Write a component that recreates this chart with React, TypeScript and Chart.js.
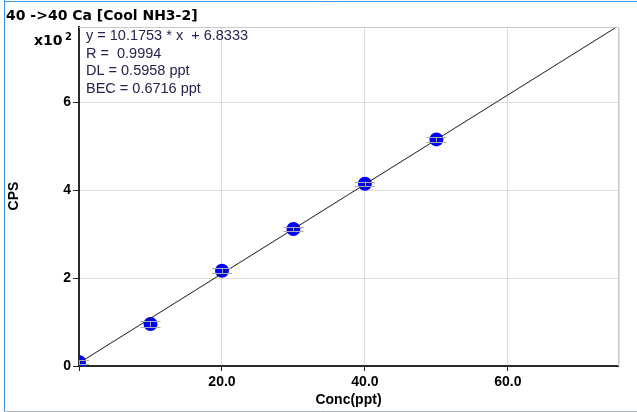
import React, { useEffect, useRef } from "react";
import { Chart, registerables } from "chart.js";

Chart.register(...registerables);

// Calibration standards (concentration, ppt) and measured signal (CPS x10^2)
const concPpt = [0, 10, 20, 30, 40, 50];
const cpsX100 = [0.09, 0.957, 2.17, 3.12, 4.15, 5.16];
const cpsErr = [0.05, 0.06, 0.06, 0.05, 0.05, 0.05];

// Fitted calibration line endpoints
const fitX = [0, 75.4];
const fitY = [0.068, 7.74];

const xTicks = [20, 40, 60];
const yTicks = [0, 2, 4, 6];

const titleText = "40 ->40 Ca [Cool NH3-2]";
const eqLines = [
  "y = 10.1753 * x  + 6.8333",
  "R =  0.9994",
  "DL = 0.5958 ppt",
  "BEC = 0.6716 ppt",
];
const xTitle = "Conc(ppt)";
const yTitle = "CPS";

const X_MAX = 75.4;
const Y_MAX = 7.72;

const decorPlugin = {
  id: "decor",
  beforeDraw(chart: any) {
    const ctx = chart.ctx;
    ctx.save();
    ctx.fillStyle = "#ffffff";
    ctx.fillRect(0, 0, chart.width, chart.height);
    ctx.restore();
  },
  afterDatasetsDraw(chart: any) {
    const ctx = chart.ctx;
    const xs = chart.scales.x;
    const ys = chart.scales.y;
    const ca = chart.chartArea;
    ctx.save();
    ctx.beginPath();
    ctx.rect(ca.left, ca.top, ca.right - ca.left, ca.bottom - ca.top);
    ctx.clip();
    ctx.strokeStyle = "#a8a8b8";
    ctx.lineWidth = 1;
    for (let i = 0; i < concPpt.length; i++) {
      const px = xs.getPixelForValue(concPpt[i]);
      const pTop = ys.getPixelForValue(cpsX100[i] + cpsErr[i]);
      const pBot = ys.getPixelForValue(cpsX100[i] - cpsErr[i]);
      ctx.beginPath();
      ctx.moveTo(px - 10, Math.round(pTop) + 0.5);
      ctx.lineTo(px + 10, Math.round(pTop) + 0.5);
      ctx.moveTo(px - 10, Math.round(pBot) + 0.5);
      ctx.lineTo(px + 10, Math.round(pBot) + 0.5);
      ctx.moveTo(Math.round(px) + 0.5, pTop);
      ctx.lineTo(Math.round(px) + 0.5, pBot);
      ctx.stroke();
    }
    ctx.restore();
  },
  afterDraw(chart: any) {
    const ctx = chart.ctx;
    const ca = chart.chartArea;
    ctx.save();
    // outer frame
    ctx.strokeStyle = "#3d95e8";
    ctx.lineWidth = 1;
    ctx.beginPath();
    ctx.moveTo(4.5, 0);
    ctx.lineTo(4.5, 411);
    ctx.moveTo(4, 1.5);
    ctx.lineTo(637, 1.5);
    ctx.stroke();
    ctx.strokeStyle = "#a9b4bf";
    ctx.beginPath();
    ctx.moveTo(4, 411.5);
    ctx.lineTo(637, 411.5);
    ctx.stroke();

    // plot top/right edges
    ctx.strokeStyle = "#c8c8c8";
    ctx.beginPath();
    ctx.moveTo(ca.left, ca.top + 0.5);
    ctx.lineTo(ca.right + 0.5, ca.top + 0.5);
    ctx.lineTo(ca.right + 0.5, ca.bottom);
    ctx.stroke();
    ctx.strokeStyle = "#e2e2e2";
    ctx.beginPath();
    ctx.moveTo(ca.right + 1.5, ca.top + 1);
    ctx.lineTo(ca.right + 1.5, ca.bottom + 1);
    ctx.stroke();

    // title
    ctx.fillStyle = "#000";
    ctx.textBaseline = "alphabetic";
    ctx.textAlign = "left";
    ctx.font = "bold 14px 'DejaVu Sans'";
    ctx.fillText(titleText, 6, 20);

    // x10^2
    ctx.font = "bold 14px 'DejaVu Sans'";
    ctx.fillText("x10", 34, 45);
    ctx.font = "bold 10px 'DejaVu Sans'";
    ctx.fillText("2", 65, 40);

    // equation text
    ctx.fillStyle = "#2a2050";
    ctx.font = "14.5px 'Liberation Sans'";
    ctx.textBaseline = "middle";
    for (let i = 0; i < eqLines.length; i++) {
      ctx.fillText(eqLines[i], 86, 36 + i * 17.5);
    }

    // axis titles
    ctx.fillStyle = "#000";
    ctx.font = "bold 14px 'Liberation Sans'";
    ctx.textAlign = "center";
    ctx.fillText(xTitle, (ca.left + ca.right) / 2, 400);
    ctx.translate(14, 196);
    ctx.rotate(-Math.PI / 2);
    ctx.fillText(yTitle, 0, 0);
    ctx.restore();
  },
};

export default function App() {
  const ref = useRef<HTMLCanvasElement | null>(null);
  useEffect(() => {
    if (!ref.current) return;
    const chart = new Chart(ref.current, {
      type: "scatter",
      data: {
        datasets: [
          {
            type: "line",
            label: "fit",
            data: fitX.map((x, i) => ({ x, y: fitY[i] })),
            borderColor: "#1a1a1a",
            borderWidth: 1,
            pointRadius: 0,
            showLine: true,
            fill: false,
            order: 0,
            clip: 0,
          } as any,
          {
            label: "std",
            data: concPpt.map((x, i) => ({ x, y: cpsX100[i] })),
            backgroundColor: "#0000ff",
            borderColor: "#0000ff",
            pointRadius: 7,
            pointBorderWidth: 0,
            order: 1,
            clip: 0,
          } as any,
        ],
      },
      options: {
        responsive: false,
        animation: false,
        devicePixelRatio: 1,
        layout: { padding: { top: 27, right: 19, left: 0, bottom: 0 } },
        plugins: {
          legend: { display: false },
          tooltip: { enabled: false },
          title: { display: false },
        },
        scales: {
          x: {
            type: "linear",
            min: 0,
            max: X_MAX,
            afterFit: (s: any) => {
              s.height = 46;
            },
            afterBuildTicks: (s: any) => {
              s.ticks = [0, ...xTicks].map((v) => ({ value: v }));
            },
            ticks: {
              autoSkip: false,
              maxRotation: 0,
              includeBounds: false,
              padding: 3,
              color: "#000",
              font: { family: "'Liberation Sans'", size: 14, weight: "bold" },
              callback: (v: any) => (v === 0 ? "" : Number(v).toFixed(1)),
            },
            grid: {
              color: (c: any) => (c.tick && c.tick.value === 0 ? "rgba(0,0,0,0)" : "#dcdcdc"),
              lineWidth: 1,
              tickLength: 5,
              tickColor: "#222",
            },
            border: { color: "#2a2a2a", width: 2 },
          },
          y: {
            type: "linear",
            min: 0,
            max: Y_MAX,
            afterFit: (s: any) => {
              s.width = 79;
            },
            afterBuildTicks: (s: any) => {
              s.ticks = yTicks.map((v) => ({ value: v }));
            },
            ticks: {
              autoSkip: false,
              includeBounds: false,
              padding: 2,
              color: "#000",
              font: { family: "'Liberation Sans'", size: 14, weight: "bold" },
              callback: (v: any) => String(v),
            },
            grid: {
              color: (c: any) => (c.tick && c.tick.value === 0 ? "rgba(0,0,0,0)" : "#dcdcdc"),
              lineWidth: 1,
              tickLength: 6,
              tickColor: "#222",
            },
            border: { color: "#2a2a2a", width: 2 },
          },
        },
      } as any,
      plugins: [decorPlugin],
    });
    return () => chart.destroy();
  }, []);

  return (
    <div style={{ position: "fixed", left: 0, top: 0, width: 637, height: 412, background: "#fff" }}>
      <canvas ref={ref} width={637} height={412} style={{ width: 637, height: 412, display: "block" }} />
    </div>
  );
}
